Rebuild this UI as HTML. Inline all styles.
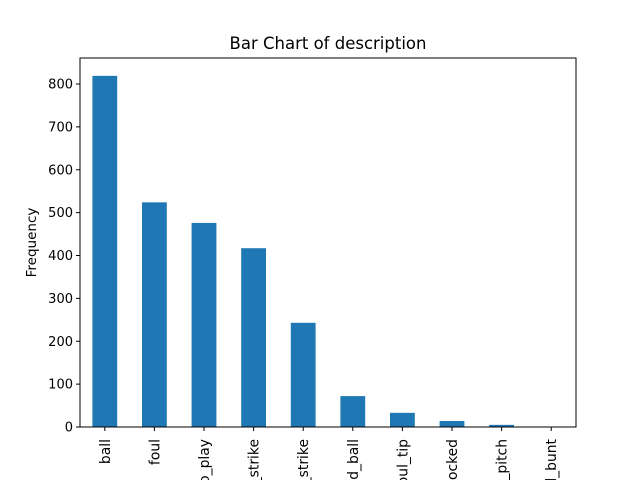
<!DOCTYPE html>
<html><head><meta charset="utf-8"><style>
html,body{margin:0;background:#fff;overflow:hidden;width:640px;height:480px;}
svg{display:block;font-family:"DejaVu Sans","Liberation Sans",sans-serif;overflow:hidden;}
</style></head><body>
<svg id="chart" width="640" height="480" viewBox="0 0 640 480">
<defs><clipPath id="frameclip"><rect x="0" y="0" width="640" height="480"/></clipPath></defs>
<rect width="640" height="480" fill="#fff"/>
<text x="328" y="49" font-size="16.5" text-anchor="middle">Bar Chart of description</text>
<text transform="translate(36,242.5) rotate(-90)" font-size="13.5" text-anchor="middle">Frequency</text>
<g id="bars"></g><g id="yticks"></g><g id="xticks" clip-path="url(#frameclip)"></g>
<rect x="80" y="58" width="496" height="369" fill="none" stroke="#000" stroke-width="1"/>
</svg>
<script>
const categories=["ball","foul","hit_into_play","called_strike","swinging_strike","blocked_ball","foul_tip","swinging_strike_blocked","hit_by_pitch","foul_bunt"];
const values=[819,524,476,417,243,72,33,14,5,1];
const yTicks=[0,100,200,300,400,500,600,700,800];
const L=80,R=576,T=58,B=427;
const y=v=>B-v*(343/800);
const step=(R-L)/categories.length;
const x=i=>L+step*(i+0.5);
const ns="http://www.w3.org/2000/svg";
const bars=document.getElementById('bars'),yt=document.getElementById('yticks'),xt=document.getElementById('xticks');
values.forEach((v,i)=>{
 const r=document.createElementNS(ns,'rect');
 r.setAttribute('x',x(i)-step*0.25);r.setAttribute('width',step*0.5);
 r.setAttribute('y',y(v));r.setAttribute('height',B-y(v));r.setAttribute('fill','#1f77b4');
 
 
 bars.appendChild(r);
 const tk=document.createElementNS(ns,'line');
 tk.setAttribute('x1',x(i));tk.setAttribute('x2',x(i));tk.setAttribute('y1',B);tk.setAttribute('y2',B+4);tk.setAttribute('stroke','#000');
 
 
 xt.appendChild(tk);
 const t=document.createElementNS(ns,'text');
 t.setAttribute('transform','translate('+(x(i)+5)+','+(B+12)+') rotate(-90)');
 t.setAttribute('font-size','13.9');t.setAttribute('text-anchor','end');
 t.textContent=categories[i];
 
 
 xt.appendChild(t);
});
yTicks.forEach(v=>{
 const tk=document.createElementNS(ns,'line');
 tk.setAttribute('x1',L-4);tk.setAttribute('x2',L);tk.setAttribute('y1',y(v));tk.setAttribute('y2',y(v));tk.setAttribute('stroke','#000');
 
 
 yt.appendChild(tk);
 const t=document.createElementNS(ns,'text');
 t.setAttribute('x',L-7);t.setAttribute('y',y(v)+4.5);t.setAttribute('font-size','13');t.setAttribute('text-anchor','end');
 t.textContent=v;
 
 
 yt.appendChild(t);
});
</script>
</body></html>
